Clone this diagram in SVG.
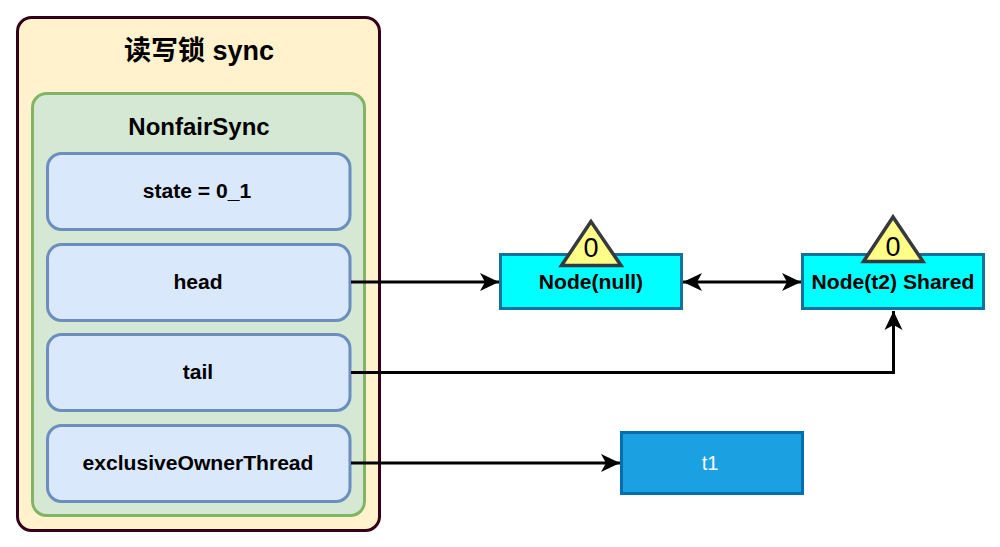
<svg xmlns="http://www.w3.org/2000/svg" width="1000" height="547" viewBox="0 0 1000 547">
<style>
text{font-family:"Liberation Sans","Noto Sans CJK SC",sans-serif;text-anchor:middle;fill:#000}
.b{font-weight:bold}
.f{font-size:21.100px;font-weight:bold}
.inner{fill:#dae8fc;stroke:#6c8ebf;stroke-width:3}
.node{fill:#00ffff;stroke:#10739e;stroke-width:3}
.tri{fill:#ffff88;stroke:#36393d;stroke-width:3.500}
.c{fill:none;stroke:#000;stroke-width:3}
</style>
<defs>
<marker id="a" markerUnits="userSpaceOnUse" markerWidth="22" markerHeight="22" refX="19" refY="11" orient="auto-start-reverse" viewBox="0 0 22 22">
<path d="M0 2 L19 11 L0 20 L5 11 Z" fill="#000"/>
</marker>
</defs>
<g id="sync">
<rect x="17.500" y="17.500" width="362" height="513" rx="14" fill="#fff2cc" stroke="#33001a" stroke-width="3"/>
<text x="199" y="60" font-size="27" class="b">读写锁 sync</text>
</g>
<g id="nonfair">
<rect x="32.500" y="93.500" width="332" height="422" rx="14" fill="#d5e8d4" stroke="#82b366" stroke-width="3"/>
<text x="199" y="135" font-size="24" class="b">NonfairSync</text>
</g>
<g id="state"><rect class="inner" x="47.500" y="153.500" width="302.500" height="76" rx="14"/><text class="f" x="197" y="198">state = 0_1</text></g>
<g id="head"><rect class="inner" x="47.500" y="244.500" width="302.500" height="76" rx="14"/><text class="f" x="198" y="289">head</text></g>
<g id="tail"><rect class="inner" x="47.500" y="334.500" width="302.500" height="76" rx="14"/><text class="f" x="198" y="379">tail</text></g>
<g id="owner"><rect class="inner" x="47.500" y="425.500" width="302.500" height="76" rx="14"/><text class="f" x="198" y="470">exclusiveOwnerThread</text></g>
<g id="connectors">
<path class="c" d="M351 282H499" marker-end="url(#a)"/>
<path class="c" d="M683 282H801" marker-start="url(#a)" marker-end="url(#a)"/>
<path class="c" d="M351 372.500H893.500V311" marker-end="url(#a)"/>
<path class="c" d="M351 463H620" marker-end="url(#a)"/>
</g>
<g id="node-null">
<rect class="node" x="500.500" y="254.500" width="181" height="54"/>
<path class="tri" d="M591 221.500L561.500 265.500H621Z"/>
<text x="591" y="257" font-size="27">0</text>
<text class="f" x="591" y="289">Node(null)</text>
</g>
<g id="node-t2">
<rect class="node" x="802.500" y="254.500" width="181" height="54"/>
<path class="tri" d="M893 217L863.500 261.500H923Z"/>
<text x="893" y="256" font-size="27">0</text>
<text class="f" x="893" y="289">Node(t2) Shared</text>
</g>
<g id="t1">
<rect x="621.500" y="432.500" width="181" height="61" fill="#1ba1e2" stroke="#006eaf" stroke-width="3"/>
<text x="710" y="470" font-size="20" style="fill:#fff">t1</text>
</g>
</svg>
